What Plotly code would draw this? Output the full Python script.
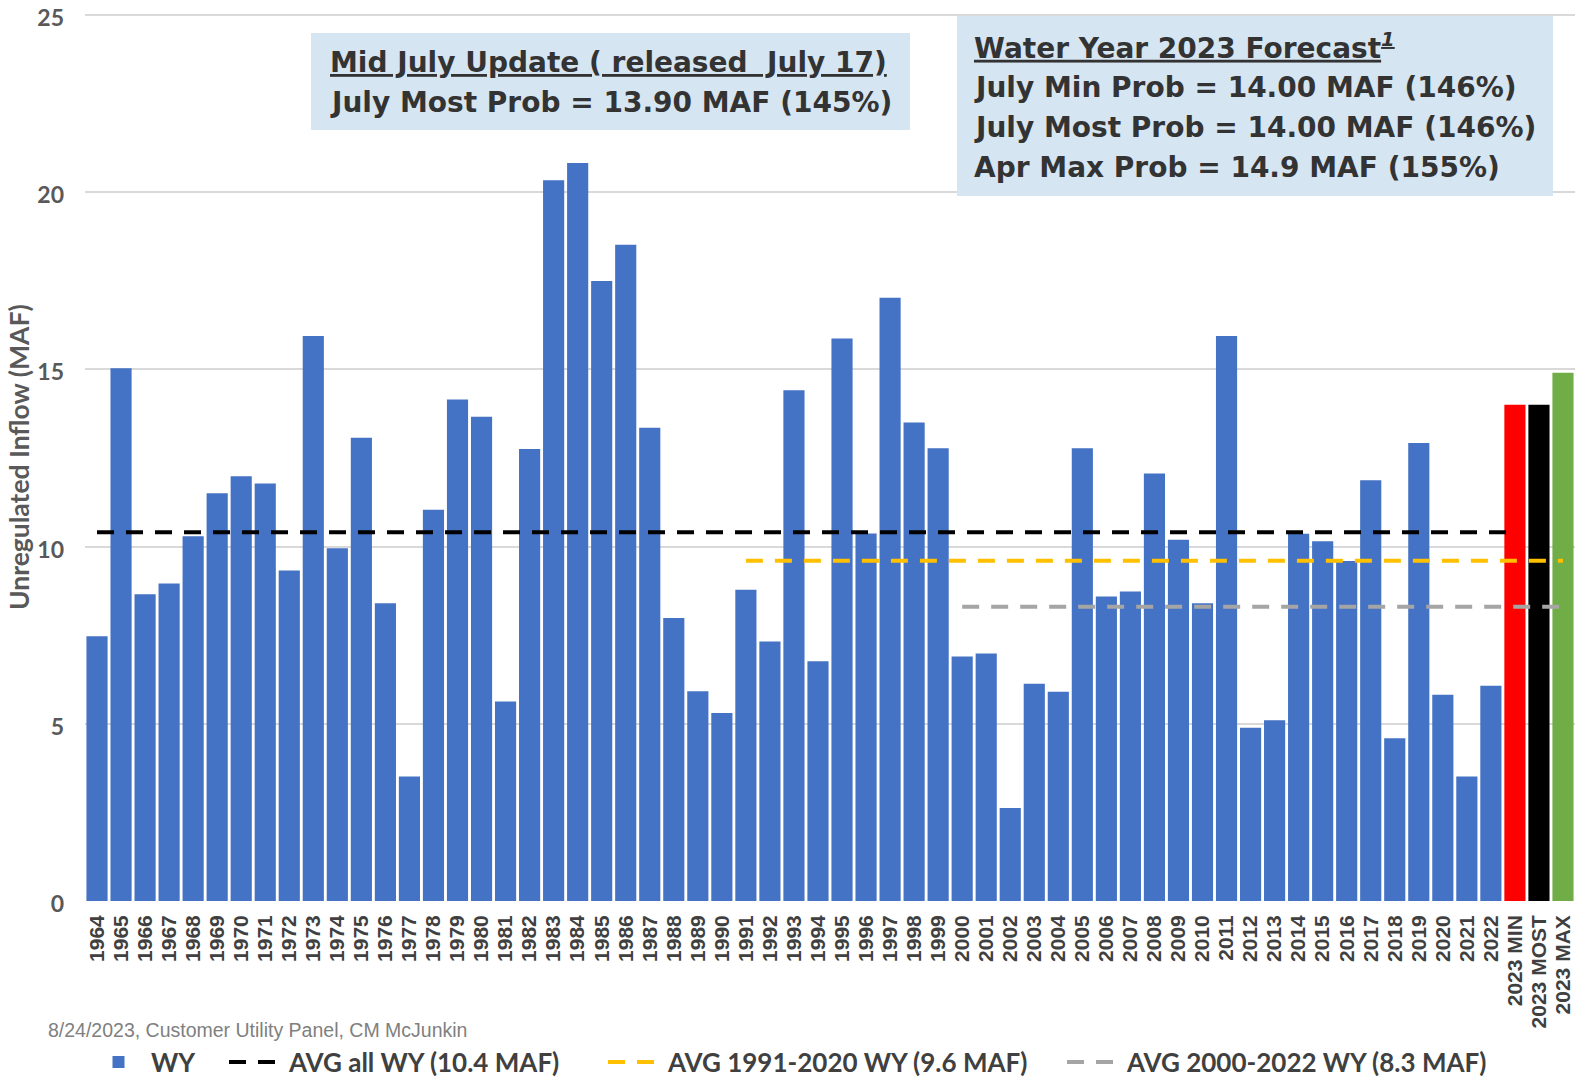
import plotly.graph_objects as go

# ---------------- data ----------------
years = [str(y) for y in range(1964, 2023)]
wy_values = [7.47, 15.03, 8.65, 8.96, 10.29, 11.50, 11.98, 11.78, 9.32, 15.94,
             9.95, 13.07, 8.40, 3.51, 11.04, 14.15, 13.66, 5.63, 12.75, 20.33,
             20.82, 17.49, 18.51, 13.35, 7.98, 5.92, 5.30, 8.78, 7.32, 14.41,
             6.76, 15.87, 10.37, 17.02, 13.50, 12.77, 6.90, 6.98, 2.62, 6.13,
             5.90, 12.77, 8.59, 8.73, 12.06, 10.19, 8.40, 15.94, 4.89, 5.10,
             10.36, 10.15, 9.59, 11.87, 4.59, 12.92, 5.82, 3.51, 6.07]
forecast_cats = ["2023 MIN", "2023 MOST", "2023 MAX"]
forecast_values = [14.00, 14.00, 14.9]
forecast_colors = ["#FF0000", "#000000", "#70AD47"]

avg_all = 10.4
avg_all_span = ["1964", "2023 MIN"]
avg_9120 = 9.6
avg_9120_span = ["1991", "2023 MAX"]
avg_0022 = 8.3
avg_0022_span = ["2000", "2023 MAX"]

y_ticks = [0, 5, 10, 15, 20, 25]
all_cats = years + forecast_cats

# ---------------- geometry (page pixels -> figure paper coords) ----------------
OFF = 8                      # page body margin
W, H = 1567, 1070            # figure size
PL, PR, PT, PB = 85, 1575, 13, 901   # plot area in page pixels
L, R, T, B = PL - OFF, (W + OFF) - PR, PT - OFF, (H + OFF) - PB
PW, PH = W - L - R, H - T - B


def px(x):
    return (x - PL) / PW


def py(y):
    return (PB - y) / PH


BOX_FONT = dict(family="DejaVu Sans", size=28, color="#333333", weight="bold")
LEG_FONT = dict(family="Lato", size=26, color="#404040", weight="bold")

fig = go.Figure()

fig.add_trace(go.Bar(x=years, y=wy_values, name="WY", legend="legend",
                     marker=dict(color="#4472C4", line=dict(width=0))))
fig.add_trace(go.Bar(x=forecast_cats, y=forecast_values, showlegend=False,
                     marker=dict(color=forecast_colors, line=dict(width=0))))

fig.add_trace(go.Scatter(x=avg_all_span, y=[avg_all, avg_all], mode="lines",
                         name="AVG all WY (10.4 MAF)", legend="legend2",
                         line=dict(color="#000000", width=4, dash="17px,12px")))
fig.add_trace(go.Scatter(x=avg_9120_span, y=[avg_9120, avg_9120], mode="lines",
                         name="AVG 1991-2020 WY (9.6 MAF)", legend="legend3",
                         line=dict(color="#FFC000", width=4, dash="17px,12px")))
fig.add_trace(go.Scatter(x=avg_0022_span, y=[avg_0022, avg_0022], mode="lines",
                         name="AVG 2000-2022 WY (8.3 MAF)", legend="legend4",
                         line=dict(color="#A5A5A5", width=4, dash="17px,12px")))

shapes = [
    dict(type="rect", xref="paper", yref="paper", x0=px(311), x1=px(910),
         y0=py(130), y1=py(33), fillcolor="#D6E5F2", line=dict(width=0), layer="above"),
    dict(type="rect", xref="paper", yref="paper", x0=px(957), x1=px(1553),
         y0=py(196), y1=py(16), fillcolor="#D6E5F2", line=dict(width=0), layer="above"),
]

annotations = [
    dict(text="Mid July Update ( released&nbsp; July 17)", x=px(328), y=py(63),
         font=dict(BOX_FONT, lineposition="under")),
    dict(text="July Most Prob = 13.90 MAF (145%)", x=px(328), y=py(102), font=BOX_FONT),
    dict(text="Water Year 2023 Forecast<sup><i>1</i></sup>", x=px(972), y=py(46),
         font=dict(BOX_FONT, lineposition="under")),
    dict(text="July Min Prob = 14.00 MAF (146%)", x=px(972), y=py(88), font=BOX_FONT),
    dict(text="July Most Prob = 14.00 MAF (146%)", x=px(972), y=py(127), font=BOX_FONT),
    dict(text="Apr Max Prob = 14.9 MAF (155%)", x=px(972), y=py(167), font=BOX_FONT),
    dict(text="Unregulated Inflow (MAF)", x=px(19), y=py(457), textangle=-90,
         xanchor="center", font=dict(family="Lato", size=26.5, color="#595959", weight="bold")),
    dict(text="8/24/2023, Customer Utility Panel, CM McJunkin", x=px(46), y=py(1030),
         font=dict(family="Liberation Sans", size=19.5, color="#808080")),
]
for a in annotations:
    a.setdefault("xref", "paper")
    a.setdefault("yref", "paper")
    a.setdefault("xanchor", "left")
    a.setdefault("yanchor", "middle")
    a["showarrow"] = False


def legend_at(x_page):
    return dict(orientation="h", x=px(x_page), xanchor="left", y=py(1062), yanchor="middle",
                font=LEG_FONT, itemwidth=55, bgcolor="rgba(0,0,0,0)", borderwidth=0)


fig.update_layout(
    width=W, height=H,
    margin=dict(l=L, r=R, t=T, b=B, autoexpand=False),
    paper_bgcolor="white", plot_bgcolor="white",
    barmode="overlay", bargap=0.12,
    shapes=shapes, annotations=annotations,
    showlegend=True,
    legend=legend_at(86),
    legend2=legend_at(224),
    legend3=legend_at(603),
    legend4=legend_at(1062),
    xaxis=dict(type="category", categoryorder="array", categoryarray=all_cats,
               tickmode="array", tickvals=all_cats, ticktext=all_cats,
               tickangle=-90, showgrid=False, showline=False, zeroline=False,
               ticklabelstandoff=9,
               tickfont=dict(family="Liberation Sans", size=21, color="#404040", weight="bold")),
    yaxis=dict(range=[0, 25.05], tickvals=y_ticks, showgrid=True,
               gridcolor="#D9D9D9", gridwidth=1.5, zeroline=False, showline=False,
               ticklabelstandoff=20, ticklabeloverflow="allow", ticklabelshift=3,
               tickfont=dict(family="Lato", size=23, color="#595959", weight="bold")),
)

fig.write_html("out.html")
